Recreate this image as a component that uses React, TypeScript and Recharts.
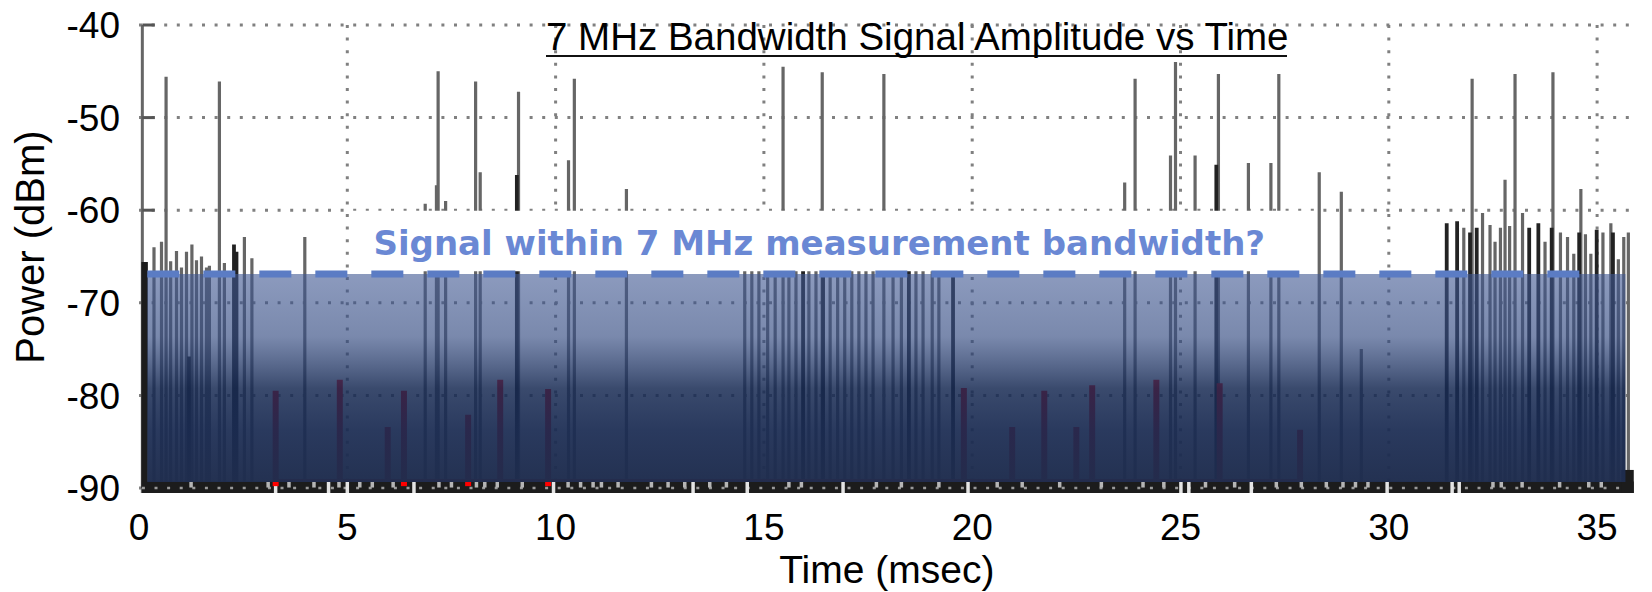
import { CartesianGrid, ComposedChart, Line, ReferenceArea, ReferenceLine, XAxis, YAxis } from 'recharts';

// [time msec, peak dBm]
const greySpikes = [
  [0.36, -64], [0.54, -63.4], [0.65, -45.6], [0.76, -65.5], [0.9, -64.4], [1.02, -66.2], [1.14, -64.5], [1.27, -63.7],
  [1.38, -65.4], [1.5, -65], [1.62, -66.2], [1.69, -66], [1.93, -46.1], [2.05, -65.7], [2.53, -62.9], [2.71, -65.2],
  [3.98, -62.9], [6.87, -59.3], [7.14, -57.3], [7.18, -45], [7.36, -59], [8.08, -46.1], [8.19, -55.9], [9.11, -47.2],
  [10.31, -54.6], [10.45, -45.8], [11.7, -57.7], [14.54, -66], [14.71, -66], [14.88, -66], [15.09, -66], [15.27, -66],
  [15.46, -44.5], [15.6, -66], [15.77, -66], [16.08, -66], [16.25, -66], [16.4, -45.1], [16.59, -66], [16.77, -66],
  [16.94, -66], [17.11, -66], [17.28, -66], [17.45, -66], [17.62, -66], [17.88, -45.3], [18.1, -66], [18.3, -66],
  [18.65, -66], [18.82, -66], [19.04, -66], [19.2, -66], [23.66, -57], [23.91, -45.8], [24.76, -54.1], [24.88, -44],
  [25.35, -54.1], [25.91, -45.3], [26.63, -54.9], [27.17, -54.9], [27.36, -45.3], [28.33, -55.9], [28.86, -58], [29.34, -75],
  [31.8, -61.9], [32, -45.8], [32.25, -60.3], [32.43, -61.6], [32.55, -63.4], [32.68, -61.9], [32.79, -56.7],
  [32.9, -61.7], [33.03, -45.3], [33.21, -60.3], [33.75, -63.4], [33.94, -45.1], [34.12, -62.4], [34.29, -62.9],
  [34.44, -64.7], [34.61, -57.7], [34.72, -62.6], [34.85, -64.7], [35.14, -62.4], [35.33, -61.4], [35.51, -65.3],
  [35.64, -62.9], [35.75, -62.4],
];
const darkSpikes = [
  [1.2, -75.8], [2.28, -63.7], [2.34, -64.5], [9.07, -56.2], [15.94, -66], [16.42, -66], [18.48, -66], [19.54, -66],
  [25.86, -55.1], [31.39, -61.4], [31.64, -61.2], [31.95, -62.4], [32.11, -61.9], [33.37, -61.9], [33.59, -61.4],
  [33.91, -61.9], [34.57, -62.4], [34.99, -62.1], [35.38, -62.4],
];
const leftEdge = [[0.135, -65.6]];
const redSpikes = [
  [3.28, -79.5], [4.82, -78.3], [5.97, -83.4], [6.36, -79.5], [7.9, -82.1], [8.67, -78.3], [9.82, -79.3], [19.8, -79.2],
  [20.96, -83.4], [21.73, -79.5], [22.5, -83.4], [22.88, -78.9], [24.42, -78.3], [25.94, -78.7], [27.87, -83.7],
];
const redFlecks = [3.28, 6.36, 7.9, 9.82];
const bandGaps = [3.28, 4.55, 5.0, 6.6, 9.95, 13.3, 14.6, 16.9, 19.9, 25.01, 25.2, 26.7, 29.96, 31.52, 31.69];
const bandFlecks = [
  1.25, 3.1, 3.6, 4.2, 4.8, 5.3, 5.6, 6.1, 7.2, 7.5, 8.1, 8.3, 8.6, 9.2, 10.3, 10.6, 10.9, 11.1, 11.5, 12.3, 12.7, 13.1,
  13.7, 14.1, 15.6, 15.9, 17.7, 18.3, 19.2, 20.6, 21.2, 22.1, 23.1, 24.1, 24.6, 25.6, 26.3, 27.3, 27.9, 28.5, 28.9,
  29.2, 29.5, 32.5, 32.7, 33.2, 34.1, 34.8, 35.1,
];
const powerTicks = [-40, -50, -60, -70, -80, -90];
const timeTicks = [0, 5, 10, 15, 20, 25, 30, 35];
const gridTimes = [5, 10, 15, 20, 25, 30, 35];

const BASE = -90;
const BOTTOM = -90.54;
const sans = '"Liberation Sans", Arial, sans-serif';

const toRows = (spikes: number[][], base = BASE) =>
  spikes.flatMap(([t, peak]) => [
    { t, p: base },
    { t, p: peak },
    { t, p: base },
  ]);

export default function App() {
  return (
    <div style={{ position: 'absolute', left: 0, top: 0, width: 1652, height: 592, background: '#fff', overflow: 'hidden' }}>
      <style>{'.soft path { filter: blur(0.7px); }'}</style>
      <ComposedChart width={1652} height={592} margin={{ left: 0, right: 17.4, top: 25, bottom: 0 }}>
        <defs>
          <linearGradient id="shade" x1="0" y1="0" x2="0" y2="1">
            <stop offset="0%" stopColor="#3f5792" stopOpacity={0.6} />
            <stop offset="30%" stopColor="#354c82" stopOpacity={0.66} />
            <stop offset="55%" stopColor="#172a53" stopOpacity={0.85} />
            <stop offset="75%" stopColor="#1a2b52" stopOpacity={0.93} />
            <stop offset="100%" stopColor="#1f2d4e" stopOpacity={0.98} />
          </linearGradient>
        </defs>
        <CartesianGrid
          stroke="#808080"
          strokeWidth={3}
          strokeDasharray="3 9.6"
          horizontalValues={powerTicks}
          verticalValues={gridTimes}
        />
        <XAxis
          type="number"
          dataKey="t"
          domain={[0, 35.9]}
          ticks={timeTicks}
          height={99}
          axisLine={false}
          tickLine={false}
          tickMargin={15}
          interval={0}
          tick={{ fontSize: 37, fontFamily: sans, fill: '#000' }}
          label={{ value: 'Time (msec)', position: 'insideBottom', offset: 9, fontSize: 39, fontFamily: sans, fill: '#000' }}
        />
        <YAxis
          type="number"
          domain={[BOTTOM, -40]}
          ticks={powerTicks}
          width={139}
          axisLine={false}
          tickLine={false}
          tickMargin={13}
          interval={0}
          tick={{ fontSize: 37, fontFamily: sans, fill: '#000' }}
          label={{ value: 'Power (dBm)', angle: -90, position: 'insideLeft', dx: 25, dy: -12, textAnchor: 'middle', fontSize: 40, fontFamily: sans, fill: '#000' }}
        />
        <ReferenceLine x={0.08} stroke="#666" strokeWidth={3} />
        {powerTicks.slice(0, 3).map((p) => (
          <ReferenceLine key={p} segment={[{ x: 0.08, y: p }, { x: 0.38, y: p }]} stroke="#555" strokeWidth={3} />
        ))}
        <Line className="soft" data={toRows(greySpikes)} dataKey="p" stroke="#666" strokeWidth={3.2} strokeLinejoin="bevel" dot={false} legendType="none" isAnimationActive={false} />
        <Line className="soft" data={toRows(darkSpikes)} dataKey="p" stroke="#222" strokeWidth={3.8} strokeLinejoin="bevel" dot={false} legendType="none" isAnimationActive={false} />
        <Line data={toRows(leftEdge)} dataKey="p" stroke="#1c1c1c" strokeWidth={6.5} strokeLinejoin="bevel" dot={false} legendType="none" isAnimationActive={false} />
        <Line data={toRows(redSpikes, -89.35)} dataKey="p" stroke="#ff0000" strokeWidth={6} strokeLinejoin="bevel" dot={false} legendType="none" isAnimationActive={false} />
        <ReferenceArea x1={0.07} x2={35.88} y1={BOTTOM} y2={-89.3} fill="#1c1c1c" fillOpacity={1} stroke="none" zIndex={500} />
        <ReferenceArea x1={35.58} x2={35.88} y1={BOTTOM} y2={-88.05} fill="#1c1c1c" fillOpacity={1} stroke="none" zIndex={500} />
        <ReferenceLine segment={[{ x: 0.07, y: BASE }, { x: 35.58, y: BASE }]} stroke="#9a9a9a" strokeWidth={2.5} strokeDasharray="3 9.6" zIndex={510} />
        {bandFlecks.map((t) => (
          <ReferenceLine key={t} segment={[{ x: t, y: -89.95 }, { x: t, y: -89.35 }]} stroke="#b5b5b5" strokeWidth={3.5} zIndex={515} />
        ))}
        {bandGaps.map((t) => (
          <ReferenceLine key={t} segment={[{ x: t, y: BOTTOM }, { x: t, y: -89.35 }]} stroke="#e4e4e4" strokeWidth={3.5} zIndex={520} />
        ))}
        {redFlecks.map((t) => (
          <ReferenceLine key={t} segment={[{ x: t, y: -89.8 }, { x: t, y: -89.35 }]} stroke="#ff0000" strokeWidth={6} zIndex={530} />
        ))}
        <ReferenceArea
          x1={5.1}
          x2={28.23}
          y1={-66.6}
          y2={-60.05}
          fill="#fff"
          fillOpacity={1}
          stroke="none"
          zIndex={600}
          label={{ value: 'Signal within 7 MHz measurement bandwidth?', position: 'center', dx: -14, dy: 2, fontSize: 34, fontWeight: 700, fontFamily: '"DejaVu Sans", sans-serif', fill: '#6a88d4' }}
        />
        <ReferenceArea x1={0.2} x2={35.68} y1={-89.35} y2={-66.9} fill="url(#shade)" fillOpacity={1} stroke="none" zIndex={610} />
        <ReferenceLine
          segment={[{ x: 0.2, y: -66.9 }, { x: 34.59, y: -66.9 }]}
          stroke="#5b7cc4"
          strokeWidth={7}
          strokeDasharray="32 24"
          zIndex={620}
        />
      </ComposedChart>
      <div
        style={{
          position: 'absolute',
          left: 546,
          top: 19,
          width: 741,
          fontFamily: sans,
          fontSize: 38.5,
          lineHeight: '36px',
          whiteSpace: 'nowrap',
          borderBottom: '2px solid #111',
          color: '#000',
        }}
      >
        7 MHz Bandwidth Signal Amplitude vs Time
      </div>
    </div>
  );
}
